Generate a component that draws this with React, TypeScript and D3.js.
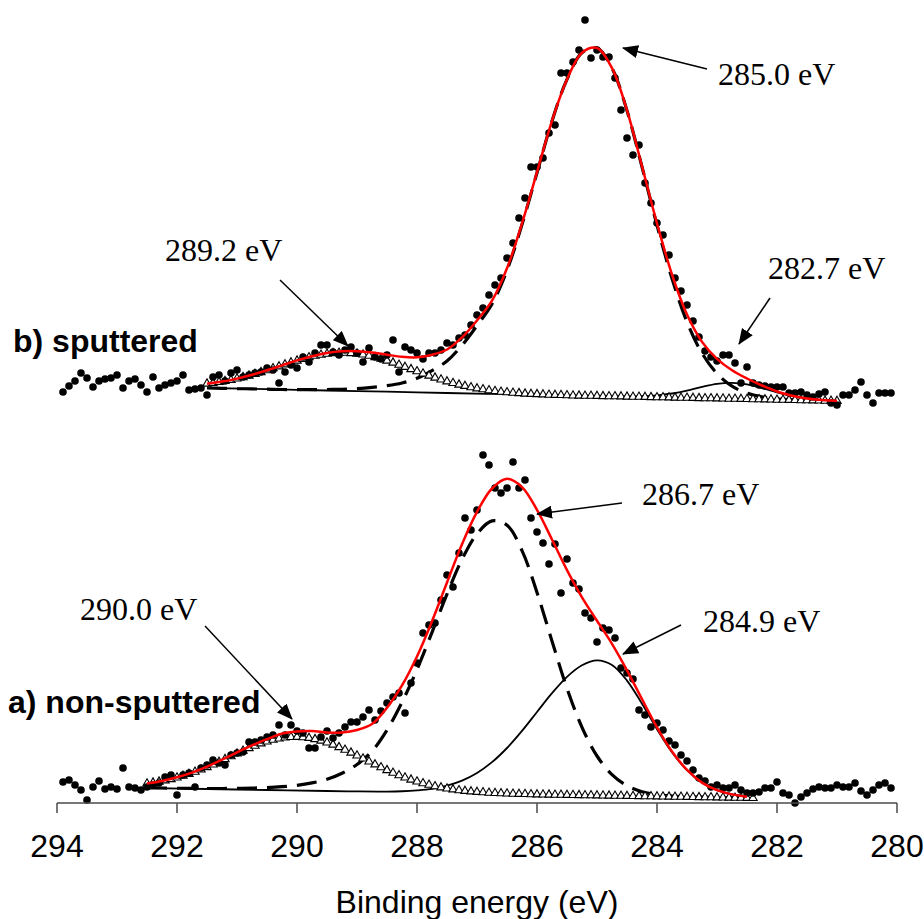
import React from "react";
import * as d3 from "d3";

type P = [number, number];

// ---------- axis ----------
const xTicks = [294, 292, 290, 288, 286, 284, 282, 280];
const xTitle = "Binding energy (eV)";
const panelLabels = ["b) sputtered", "a) non-sputtered"];
const annotationTexts = ["285.0 eV", "289.2 eV", "282.7 eV", "286.7 eV", "290.0 eV", "284.9 eV"];

// ---------- b) sputtered : measured points (BE eV, intensity a.u.) ----------
const dotsB: P[] = [
  [293.9,11],[293.8,17],[293.7,22],[293.6,30],[293.5,25],[293.4,16],[293.3,22],[293.2,24],[293.1,25],[293.0,28],
  [292.9,15],[292.8,22],[292.7,24],[292.6,18],[292.5,11],[292.4,26],[292.3,15],[292.2,18],[292.1,20],[292.0,22],
  [291.9,28],[291.8,13],[291.7,14],[291.6,15],[291.5,8],[291.4,26],[291.3,28],[291.2,22],[291.1,30],[291.0,33],
  [290.9,26],[290.8,28],[290.7,30],[290.6,31],[290.5,35],[290.4,33],[290.3,20],[290.2,31],[290.1,38],[290.0,35],
  [289.9,46],[289.8,41],[289.7,50],[289.6,58],[289.5,58],[289.4,51],[289.3,48],[289.2,53],[289.1,56],[289.0,50],
  [288.9,41],[288.8,55],[288.7,46],[288.6,44],[288.5,48],[288.4,63],[288.3,31],[288.2,56],[288.1,53],[288.0,50],
  [287.9,44],[287.8,50],[287.7,50],[287.6,53],[287.5,60],[287.4,58],[287.3,65],[287.2,68],[287.1,78],[287.0,88],
  [286.9,95],[286.8,108],[286.7,118],[286.6,125],[286.5,145],[286.4,160],[286.3,185],[286.2,205],[286.1,236],[286.0,236],
  [285.9,245],[285.8,270],[285.7,278],[285.6,330],[285.5,330],[285.4,341],[285.3,353],[285.2,383],[285.1,345],[285.0,353],
  [284.9,346],[284.8,346],[284.7,325],[284.6,293],[284.5,265],[284.4,248],[284.3,258],[284.2,220],[284.1,200],[284.0,180],
  [283.9,168],[283.8,148],[283.7,125],[283.6,112],[283.5,98],[283.4,82],[283.3,66],[283.2,52],[283.1,46],[283.0,42],
  [282.9,48],[282.8,48],[282.7,40],[282.6,20],[282.5,36],[282.4,20],[282.3,18],[282.2,17],[282.1,16],[282.0,16],
  [281.9,16],[281.8,10],[281.7,10],[281.6,11],[281.5,8],[281.4,6],[281.3,9],[281.2,11],[281.1,0],[281.0,-2],
  [280.9,8],[280.8,8],[280.7,13],[280.6,21],[280.5,8],[280.4,0],[280.3,10],[280.2,10],[280.1,10],
];

// b) fit envelope (red)
const envelopeB: P[] = [
  [291.5,19.3],[291.25,21.4],[291.0,24.4],[290.75,28.2],[290.5,32.7],[290.25,37.6],[290.0,42.6],[289.75,46.8],
  [289.5,50.1],[289.25,51.7],[289.0,51.8],[288.75,50.6],[288.5,48.3],[288.25,46.2],[288.0,45.7],[287.75,48.3],
  [287.5,53.5],[287.25,65.6],[287.0,82.5],[286.75,102.3],[286.5,134.7],[286.25,179.5],[286.0,230.8],[285.75,282.2],
  [285.5,323.6],[285.25,350.3],[285.0,355],[284.75,334.8],[284.5,292.6],[284.25,236.8],[284.0,179.6],[283.75,128.5],
  [283.5,88.4],[283.25,61.1],[283.0,44.2],[282.75,32.8],[282.5,24.5],[282.25,17.5],[282.0,11.5],[281.75,7.3],
  [281.5,4.5],[281.25,3.0],[281.0,2.2],
];

// b) 285.0 eV component (long dashes)
const mainB: P[] = [
  [291.5,15.0],[291.25,14.7],[291.0,14.4],[290.75,14.1],[290.5,13.8],[290.25,13.5],[290.0,13.4],[289.75,13.3],
  [289.5,13.5],[289.25,13.7],[289.0,14.4],[288.75,15.6],[288.5,17.3],[288.25,20.0],[288.0,24.7],[287.75,32.4],
  [287.5,42.0],[287.25,57.7],[287.0,77.4],[286.75,99.1],[286.5,132.8],[286.25,178.5],[286.0,230.2],[285.75,281.9],
  [285.5,323.6],[285.25,350.3],[285.0,355],[284.75,334.7],[284.5,292.4],[284.25,236.1],[284.0,177.8],[283.75,124.5],
  [283.5,81.1],[283.25,49.8],[283.0,29.5],[282.75,16.8],[282.5,9.8],[282.25,6.2],[282.0,4.2],[281.75,3.3],
  [281.5,2.7],[281.25,2.3],[281.0,2.0],
];

// b) 282.7 eV component (thin solid)
const minorB: P[] = [
  [291.5,15.0],[290.5,13.8],[289.5,12.5],[288.5,11.3],[287.5,10.0],[286.5,8.8],[285.5,7.6],[284.75,6.8],
  [284.5,6.6],[284.25,6.8],[284.0,7.6],[283.75,9.5],[283.5,12.4],[283.25,16.1],[283.0,19.2],[282.75,20.2],
  [282.5,18.6],[282.25,14.9],[282.0,10.5],[281.75,6.9],[281.5,4.4],[281.25,3.0],[281.0,2.2],
];

// b) 289.2 eV component (open triangles)
const trianglesB: P[] = [
  [291.5,19.3],[291.4,20.0],[291.3,20.9],[291.2,21.9],[291.1,23.0],[291.0,24.4],[290.9,25.8],[290.8,27.3],[290.7,29.0],[290.6,30.8],
  [290.5,32.7],[290.4,34.6],[290.3,36.5],[290.2,38.5],[290.1,40.5],[290.0,42.3],[289.9,44.0],[289.8,45.7],[289.7,47.1],[289.6,48.2],
  [289.5,49.1],[289.4,49.8],[289.3,50.1],[289.2,50.1],[289.1,49.8],[289.0,49.3],[288.9,48.4],[288.8,47.2],[288.7,45.8],[288.6,44.2],
  [288.5,42.3],[288.4,40.3],[288.3,38.2],[288.2,36.0],[288.1,33.8],[288.0,31.7],[287.9,29.4],[287.8,27.3],[287.7,25.3],[287.6,23.4],
  [287.5,21.5],[287.4,19.9],[287.3,18.3],[287.2,17.0],[287.1,15.6],[287.0,14.5],[286.9,13.6],[286.8,12.7],[286.7,11.9],[286.6,11.2],
  [286.5,10.7],[286.4,10.2],[286.3,9.8],[286.2,9.3],[286.1,9.0],[286.0,8.8],[285.9,8.5],[285.8,8.2],[285.7,8.0],[285.6,7.9],
  [285.5,7.7],[285.4,7.4],[285.3,7.3],[285.2,7.2],[285.1,7.1],[285.0,7.0],[284.9,6.8],[284.8,6.7],[284.7,6.6],[284.6,6.5],
  [284.5,6.3],[284.4,6.2],[284.3,6.1],[284.2,6.0],[284.1,5.8],[284.0,5.7],[283.9,5.6],[283.8,5.5],[283.7,5.3],[283.6,5.2],
  [283.5,5.1],[283.4,5.0],[283.3,4.8],[283.2,4.7],[283.1,4.6],[283.0,4.5],[282.9,4.4],[282.8,4.2],[282.7,4.1],[282.6,4.0],
  [282.5,3.9],[282.4,3.7],[282.3,3.6],[282.2,3.5],[282.1,3.4],[282.0,3.2],[281.9,3.1],[281.8,3.0],[281.7,2.9],[281.6,2.7],
  [281.5,2.6],[281.4,2.5],[281.3,2.4],[281.2,2.2],[281.1,2.1],[281.0,2.0],
];

// ---------- a) non-sputtered ----------
const dotsA: P[] = [
  [293.9,21],[293.8,23],[293.7,18],[293.6,13],[293.5,3],[293.4,16],[293.3,22],[293.2,14],[293.1,16],[293.0,14],
  [292.9,35],[292.8,16],[292.7,15],[292.6,13],[292.5,16],[292.4,18],[292.3,20],[292.2,26],[292.1,28],[292.0,8],
  [291.9,28],[291.8,30],[291.7,16],[291.6,35],[291.5,38],[291.4,43],[291.3,40],[291.2,38],[291.1,48],[291.0,50],
  [290.9,51],[290.8,61],[290.7,61],[290.6,63],[290.5,66],[290.4,68],[290.3,78],[290.2,68],[290.1,78],[290.0,72],
  [289.9,70],[289.8,55],[289.7,55],[289.6,66],[289.5,72],[289.4,65],[289.3,70],[289.2,76],[289.1,81],[289.0,81],
  [288.9,86],[288.8,93],[288.7,83],[288.6,92],[288.5,100],[288.4,106],[288.3,110],[288.2,90],[288.1,120],[288.0,140],
  [287.9,170],[287.8,178],[287.7,180],[287.6,203],[287.5,228],[287.4,216],[287.3,250],[287.2,285],[287.1,273],[287.0,293],
  [286.9,348],[286.8,338],[286.7,315],[286.6,310],[286.5,315],[286.4,341],[286.3,315],[286.2,323],[286.1,285],[286.0,271],
  [285.9,260],[285.8,239],[285.7,259],[285.6,210],[285.5,244],[285.4,220],[285.3,214],[285.2,190],[285.1,185],[285.0,161],
  [284.9,175],[284.8,173],[284.7,165],[284.6,135],[284.5,130],[284.4,124],[284.3,93],[284.2,88],[284.1,76],[284.0,80],
  [283.9,73],[283.8,62],[283.7,58],[283.6,48],[283.5,42],[283.4,33],[283.3,25],[283.2,22],[283.1,16],[283.0,18],
  [282.9,15],[282.8,15],[282.7,18],[282.6,13],[282.5,10],[282.4,10],[282.3,11],[282.2,15],[282.1,15],[282.0,21],
  [281.9,10],[281.8,8],[281.7,0],[281.6,6],[281.5,10],[281.4,14],[281.3,16],[281.2,15],[281.1,15],[281.0,18],
  [280.9,16],[280.8,16],[280.7,20],[280.6,12],[280.5,8],[280.4,13],[280.3,18],[280.2,20],[280.1,15],
];

const envelopeA: P[] = [
  [292.5,19.6],[292.25,22.1],[292.0,25.7],[291.75,30.4],[291.5,36.3],[291.25,43.3],[291.0,50.6],[290.75,57.6],
  [290.5,63.8],[290.25,69.4],[290.0,71.5],[289.75,72.0],[289.5,70.5],[289.25,70.5],[289.0,73.0],[288.75,79.0],
  [288.5,95.3],[288.25,117.6],[288.0,146.5],[287.75,181.7],[287.5,220.5],[287.25,258.8],[287.0,291.1],[286.75,314.5],
  [286.5,324.2],[286.25,315.9],[286.0,293.1],[285.75,263.5],[285.5,232.9],[285.25,205.7],[285.0,182.2],[284.75,159.2],
  [284.5,132.7],[284.25,103.8],[284.0,75.7],[283.75,51.5],[283.5,33.1],[283.25,20.4],[283.0,12.8],[282.75,8.6],
  [282.5,6.3],
];

// a) 286.7 eV component (long dashes)
const mainA: P[] = [
  [292.5,15.2],[292.25,15.0],[292.0,14.8],[291.75,14.6],[291.5,14.5],[291.25,14.5],[291.0,14.7],[290.75,14.9],
  [290.5,15.4],[290.25,16.3],[290.0,17.7],[289.75,20.1],[289.5,23.7],[289.25,29.8],[289.0,38.5],[288.75,51.9],
  [288.5,73.0],[288.25,100.8],[288.0,133.5],[287.75,170.7],[287.5,208.8],[287.25,243.6],[287.0,269.1],[286.75,282.1],
  [286.5,277.8],[286.25,252.4],[286.0,210.6],[285.75,161.9],[285.5,114.7],[285.25,75.7],[285.0,47.0],[284.75,28.4],
  [284.5,17.3],[284.25,11.3],[284.0,8.4],[283.75,7.0],[283.5,6.3],[283.25,5.9],[283.0,5.5],[282.75,5.3],[282.5,5.0],
];

// a) 284.9 eV component (thin solid)
const minorA: P[] = [
  [292.5,15.0],[291.5,14.0],[290.5,13.0],[289.5,12.0],[289.0,11.6],[288.5,11.45],[288.25,11.75],[288.0,12.6],
  [287.75,14.15],[287.5,17.3],[287.25,22.35],[287.0,30.0],[286.75,40.85],[286.5,55.0],[286.25,72.05],[286.0,91.0],
  [285.75,109.85],[285.5,126.2],[285.25,137.75],[285.0,142.7],[284.75,138.05],[284.5,122.4],[284.25,99.25],[284.0,73.8],
  [283.75,50.75],[283.5,32.8],[283.25,20.35],[283.0,12.8],[282.75,8.55],[282.5,6.3],
];

// a) 290.0 eV component (open triangles)
const trianglesA: P[] = [
  [292.5,19.4],[292.4,20.3],[292.3,21.3],[292.2,22.5],[292.1,23.8],[292.0,25.4],[291.9,27.1],[291.8,29.0],[291.7,31.1],[291.6,33.4],
  [291.5,35.8],[291.4,38.4],[291.3,41.1],[291.2,43.8],[291.1,46.6],[291.0,49.4],[290.9,52.1],[290.8,54.8],[290.7,57.2],[290.6,59.5],
  [290.5,61.4],[290.4,63.1],[290.3,64.4],[290.2,65.4],[290.1,65.9],[290.0,66.0],[289.9,65.7],[289.8,65.0],[289.7,63.8],[289.6,62.3],
  [289.5,60.4],[289.4,58.3],[289.3,55.8],[289.2,53.2],[289.1,50.3],[289.0,47.4],[288.9,44.4],[288.8,41.4],[288.7,38.5],[288.6,35.6],
  [288.5,32.8],[288.4,30.2],[288.3,27.7],[288.2,25.4],[288.1,23.3],[288.0,21.4],[287.9,19.6],[287.8,18.1],[287.7,16.7],[287.6,15.5],
  [287.5,14.4],[287.4,13.5],[287.3,12.7],[287.2,12.0],[287.1,11.5],[287.0,11.0],[286.9,10.6],[286.8,10.2],[286.7,9.9],[286.6,9.6],
  [286.5,9.4],[286.4,9.2],[286.3,9.0],[286.2,8.9],[286.1,8.7],[286.0,8.5],[285.9,8.4],[285.8,8.3],[285.7,8.2],[285.6,8.1],
  [285.5,8.0],[285.4,7.9],[285.3,7.8],[285.2,7.7],[285.1,7.6],[285.0,7.5],[284.9,7.4],[284.8,7.3],[284.7,7.2],[284.6,7.1],
  [284.5,7.0],[284.4,6.9],[284.3,6.8],[284.2,6.7],[284.1,6.6],[284.0,6.5],[283.9,6.4],[283.8,6.3],[283.7,6.2],[283.6,6.1],
  [283.5,6.0],[283.4,5.9],[283.3,5.8],[283.2,5.7],[283.1,5.6],[283.0,5.5],[282.9,5.4],[282.8,5.3],[282.7,5.2],[282.6,5.1],
  [282.5,5.0],[282.4,4.9],
];

// vertical stacking offsets (a.u.)
const OFFSET_B = 400;
const OFFSET_A = 0;

const SANS = "'Liberation Sans', Arial, Helvetica, sans-serif";
const SERIF = "'Liberation Serif', 'Times New Roman', Times, serif";

export default function App() {
  const W = 924, H = 919;
  const x = d3.scaleLinear().domain([294, 280]).range([57, 897]);
  const y = d3.scaleLinear().domain([0, 800]).range([803, 3]);

  const mkLine = (off: number) =>
    d3.line<P>().x(d => x(d[0])).y(d => y(d[1] + off)).curve(d3.curveCatmullRom.alpha(0.5));
  const triPath = d3.symbol().type(d3.symbolTriangle).size(30)() as string;

  const panels = [
    { dots: dotsB, env: envelopeB, main: mainB, minor: minorB, tri: trianglesB, off: OFFSET_B },
    { dots: dotsA, env: envelopeA, main: mainA, minor: minorA, tri: trianglesA, off: OFFSET_A },
  ];

  // annotation layout (label position, arrow start, arrow tip)
  const annLayout = [
    { tx: 718, ty: 85, x1: 707, y1: 69, x2: 623, y2: 48 },
    { tx: 165, ty: 261, x1: 280, y1: 280, x2: 348, y2: 346 },
    { tx: 768, ty: 279, x1: 770, y1: 298, x2: 739, y2: 344 },
    { tx: 642, ty: 505, x1: 622, y1: 503, x2: 537, y2: 514 },
    { tx: 80, ty: 620, x1: 205, y1: 626, x2: 292, y2: 719 },
    { tx: 703, ty: 632, x1: 681, y1: 625, x2: 623, y2: 654 },
  ];
  const labelLayout = [
    { x: 13, y: 352 },
    { x: 8, y: 713 },
  ];

  return (
    <div style={{ position: "absolute", left: 0, top: 0 }}>
      <svg width={W} height={H} viewBox={`0 0 ${W} ${H}`} style={{ display: "block", background: "#fff" }}>
        <defs>
          <marker id="ah" viewBox="0 0 16 13" refX="15" refY="6.5" markerWidth="16" markerHeight="13"
            markerUnits="userSpaceOnUse" orient="auto">
            <path d="M0,0 L16,6.5 L0,13 Z" fill="#000" />
          </marker>
        </defs>
        <rect x={0} y={0} width={W} height={H} fill="#fff" />

        {panels.map((p, i) => {
          const ln = mkLine(p.off);
          return (
            <g key={i}>
              <path d={ln(p.minor) || ""} fill="none" stroke="#000" strokeWidth={1.8} />
              <path d={ln(p.main) || ""} fill="none" stroke="#000" strokeWidth={3.2} strokeDasharray="20,10" />
              {p.tri.map((d, j) => (
                <path key={j} d={triPath} transform={`translate(${x(d[0])},${y(d[1] + p.off)})`}
                  fill="#fff" stroke="#000" strokeWidth={1.1} />
              ))}
              {p.dots.map((d, j) => (
                <circle key={j} cx={x(d[0])} cy={y(d[1] + p.off)} r={3.8} fill="#000" />
              ))}
              <path d={ln(p.env) || ""} fill="none" stroke="#ff0000" strokeWidth={2.5} />
            </g>
          );
        })}

        {/* x axis */}
        <g>
          <line x1={x(294)} x2={x(280)} y1={803} y2={803} stroke="#4a4a4a" strokeWidth={1.5} />
          {xTicks.map(t => (
            <g key={t}>
              <line x1={x(t)} x2={x(t)} y1={803} y2={813} stroke="#4a4a4a" strokeWidth={1.5} />
              <text x={x(t)} y={857} textAnchor="middle" fontFamily={SANS} fontSize={32} fill="#000">{t}</text>
            </g>
          ))}
          <text x={(x(294) + x(280)) / 2} y={913} textAnchor="middle" fontFamily={SANS} fontSize={32} fill="#000">
            {xTitle}
          </text>
        </g>

        {/* panel labels */}
        {panelLabels.map((t, i) => (
          <text key={t} x={labelLayout[i].x} y={labelLayout[i].y} fontFamily={SANS} fontWeight="bold"
            fontSize={32} fill="#000">{t}</text>
        ))}

        {/* annotations */}
        {annotationTexts.map((t, i) => {
          const a = annLayout[i];
          return (
            <g key={t}>
              <line x1={a.x1} y1={a.y1} x2={a.x2} y2={a.y2} stroke="#000" strokeWidth={1.5} markerEnd="url(#ah)" />
              <text x={a.tx} y={a.ty} fontFamily={SERIF} fontSize={32} fill="#000">{t}</text>
            </g>
          );
        })}
      </svg>
    </div>
  );
}
